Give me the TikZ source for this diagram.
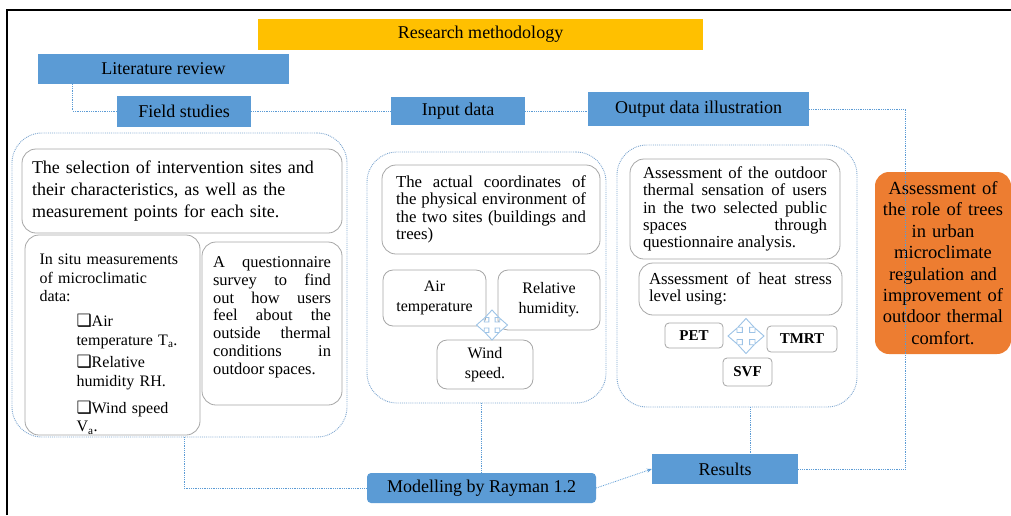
\documentclass[tikz,border=0pt]{standalone}
\usepackage{fontspec}
\setmainfont{Liberation Serif}
\newfontfamily\dingfont{DejaVu Sans}
\usetikzlibrary{arrows.meta}

\definecolor{barblue}{HTML}{5B9BD5}
\definecolor{baryellow}{HTML}{FFC000}
\definecolor{barorange}{HTML}{ED7D31}
\definecolor{dotblue}{HTML}{7EA6CF}
\definecolor{cardgray}{HTML}{A6A6A6}
\definecolor{crossblue}{HTML}{9DC3E6}

% small shadowed square in front of the measured variables
\newcommand{\sqmark}{{\dingfont\fontsize{17}{17}\selectfont ❑}}

\tikzset{
    bar/.style = {rectangle, fill=barblue, inner sep=0pt, font=\fontsize{18}{21}\selectfont},
    group/.style = {rectangle, rounded corners=30pt, draw=dotblue, densely dotted, line width=0.9pt, inner sep=0pt},
    card/.style = {rectangle, rounded corners=14pt, draw=cardgray, fill=white, line width=0.8pt, inner sep=0pt},
    tag/.style = {rectangle, rounded corners=4pt, draw=cardgray, fill=white, line width=0.8pt, inner sep=0pt, font=\fontsize{15}{17}\selectfont\bfseries},
    link/.style = {draw=barblue, densely dotted, line width=0.8pt},
    quadarrow/.pic = {
        \draw[crossblue, fill=white, line width=0.9pt, solid]
            (0,1) -- (0.45,0.5) -- (0.2,0.5) -- (0.2,0.2) -- (0.5,0.2) -- (0.5,0.45)
            -- (1,0) -- (0.5,-0.45) -- (0.5,-0.2) -- (0.2,-0.2) -- (0.2,-0.5) -- (0.45,-0.5)
            -- (0,-1) -- (-0.45,-0.5) -- (-0.2,-0.5) -- (-0.2,-0.2) -- (-0.5,-0.2) -- (-0.5,-0.45)
            -- (-1,0) -- (-0.5,0.45) -- (-0.5,0.2) -- (-0.2,0.2) -- (-0.2,0.5) -- (-0.45,0.5) -- cycle;
    }
}

\begin{document}
\begin{tikzpicture}[x=1pt, y=-1pt]
    \useasboundingbox (0,0) rectangle (1011,515);
    \draw[line width=2.5pt] (7,515) -- (7,10) -- (1011,10);

    % headings
    \node [bar, fill=baryellow, minimum width=445pt, minimum height=31pt] (method) at (480.5,34.5) {Research methodology};
    \node [bar, minimum width=251pt, minimum height=30pt] (lit) at (163.5,69) {Literature review};
    \node [bar, minimum width=134pt, minimum height=31pt] (field) at (184,111) {Field studies};
    \node [bar, minimum width=134pt, minimum height=28pt] (input) at (458,111) {Input data};
    \node [bar, minimum width=221pt, minimum height=34pt] (output) at (698.5,109) {Output data illustration};

    % dotted groups
    \node [group, minimum width=335pt, minimum height=304pt] (c1) at (179.5,285) {};
    \node [group, minimum width=239pt, minimum height=251pt] (c2) at (486.5,277.5) {};
    \node [group, minimum width=240pt, minimum height=262pt] (c3) at (737,276) {};

    % field studies
    \node [card, minimum width=320pt, minimum height=84pt, text width=300pt, align=left, font=\fontsize{18}{21.7}\selectfont] (sites) at (182,191)
        {The selection of intervention sites and\\ their characteristics, as well as the\\ measurement points for each site.};
    \node [card, minimum width=175pt, minimum height=200pt, text width=146pt, align=left, font=\fontsize{16}{18.7}\selectfont] (insitu) at (112.5,335)
        {\rule{0pt}{29pt}In situ measurements\\ of microclimatic\\ data:\\[6pt]
         \hspace*{37pt}\sqmark Air\\ \hspace*{37pt}temperature T\textsubscript{a}.\\[4pt]
         \hspace*{37pt}\sqmark Relative\\ \hspace*{37pt}humidity RH.\\[8pt]
         \hspace*{37pt}\sqmark Wind speed\\ \hspace*{37pt}V\textsubscript{a}.};
    \node [card, minimum width=140pt, minimum height=163pt, text width=118pt, align=justify, font=\fontsize{16.5}{17.8}\selectfont] (survey) at (272,323.5)
        {A questionnaire\linebreak survey to find\linebreak out how users\linebreak feel about the\linebreak outside thermal\linebreak conditions in\linebreak outdoor spaces.\rule[-16pt]{0pt}{16pt}};

    % input data
    \node [card, minimum width=218pt, minimum height=89pt, text width=190pt, align=justify, font=\fontsize{16.8}{17.4}\selectfont] (coords) at (491,209.5)
        {The actual coordinates of\linebreak the physical environment of\linebreak the two sites (buildings and\linebreak trees)};
    \node [card, rounded corners=10pt, minimum width=103pt, minimum height=56pt, align=center, font=\fontsize{16}{20}\selectfont] (airt) at (434.5,298) {Air\\ temperature};
    \node [card, rounded corners=10pt, minimum width=102pt, minimum height=60pt, align=center, font=\fontsize{16}{20}\selectfont] (relh) at (549,300) {Relative\\ humidity.};
    \node [card, rounded corners=10pt, minimum width=96pt, minimum height=49pt, align=center, font=\fontsize{16}{20}\selectfont] (wind) at (485,364.5) {Wind\\ speed.};
    \pic [xscale=15.5, yscale=15] at (492,325) {quadarrow};

    % output data
    \node [card, minimum width=210pt, minimum height=100pt, text width=184pt, align=justify, font=\fontsize{16.8}{17.2}\selectfont] (sense) at (735,209)
        {Assessment of the outdoor\linebreak thermal sensation of users\linebreak in the two selected public\linebreak spaces through\linebreak questionnaire analysis.};
    \node [card, minimum width=203pt, minimum height=52pt, text width=183pt, align=justify, font=\fontsize{16.8}{17.2}\selectfont] (stress) at (740.5,289)
        {Assessment of heat stress\linebreak level using:};
    \node [tag, minimum width=58pt, minimum height=25pt] (pet) at (694,335.5) {PET};
    \node [tag, minimum width=70pt, minimum height=26pt] (tmrt) at (802,339) {TMRT};
    \node [tag, minimum width=49pt, minimum height=28pt] (svf) at (747.5,372) {SVF};
    \pic [xscale=18, yscale=17.5] at (746,336) {quadarrow};

    \node [rectangle, rounded corners=14pt, fill=barorange, minimum width=136pt, minimum height=182pt, text width=130pt, align=center, inner sep=0pt,
           font=\fontsize{18.5}{21.4}\selectfont] (role) at (943,263)
        {Assessment of\\ the role of trees\\ in urban\\ microclimate\\ regulation and\\ improvement of\\ outdoor thermal\\ comfort.};

    \node [bar, rounded corners=4pt, minimum width=229pt, minimum height=30pt] (model) at (481.5,488) {Modelling by Rayman 1.2};
    \node [bar, minimum width=146pt, minimum height=30pt] (results) at (725,469) {Results};

    % connectors
    \coordinate (rise) at (905,0);
    \coordinate (drop) at ([xshift=13pt]c3.south);
    \draw [link] ([xshift=35pt]lit.south west) |- (field.west);
    \draw [link] (field.east) -- (input.west);
    \draw [link] (input.east) -- (input.east -| output.west);
    \draw [link] (output.east) -| (rise |- results.east) -- (results.east);
    \draw [link] (c1.south -| field) |- (model.west);
    \draw [link] (c2.south -| model) -- (model.north);
    \draw [link] (drop) -- (drop |- results.north);
    \draw [link, -{Stealth[length=5pt, width=4pt]}] (model.east) -- (results.west);
\end{tikzpicture}
\end{document}
